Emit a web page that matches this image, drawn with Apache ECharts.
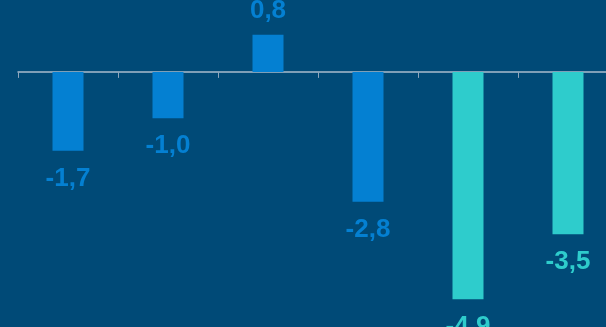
<!DOCTYPE html>
<html>
<head>
<meta charset="utf-8">
<script src="https://cdn.jsdelivr.net/npm/echarts@6/dist/echarts.min.js"></script>
<style>
html,body{margin:0;padding:0;background:#004a77;overflow:hidden;width:606px;height:327px;}
#c{width:618px;height:327px;}
</style>
</head>
<body>
<div id="c"></div>
<script>
const categories = ['A', 'B', 'C', 'D', 'E', 'F'];
const values = [-1.7, -1.0, 0.8, -2.8, -4.9, -3.5];
const colorGroups = [0, 0, 0, 0, 1, 1];
const palette = ['#0480d2', '#2ecccc'];

const chart = echarts.init(document.getElementById('c'));
const data = values.map((v, i) => ({
  value: v,
  itemStyle: { color: palette[colorGroups[i]] },
  label: {
    position: v >= 0 ? 'top' : 'bottom',
    distance: v >= 0 ? 11 : 15,
    color: palette[colorGroups[i]]
  }
}));
chart.setOption({
  backgroundColor: '#004a77',
  animation: false,
  grid: { left: 18, right: 0, top: 0, bottom: 0, containLabel: false },
  xAxis: {
    type: 'category',
    data: categories,
    axisLine: { show: true, onZero: true, lineStyle: { color: '#a9bccd', width: 1.5 } },
    axisTick: { show: true, alignWithLabel: false, length: 6, lineStyle: { color: '#8ea6bd', width: 1 } },
    axisLabel: { show: false },
    splitLine: { show: false }
  },
  yAxis: {
    type: 'value',
    min: -5.5,
    max: 1.55,
    show: false,
    splitLine: { show: false }
  },
  series: [{
    type: 'bar',
    data: data,
    barWidth: 31,
    label: {
      show: true,
      fontFamily: 'Liberation Sans, Arial, sans-serif',
      fontWeight: 'bold',
      fontSize: 26,
      formatter: p => p.value.toFixed(1).replace('.', ',')
    }
  }]
});
</script>
</body>
</html>
